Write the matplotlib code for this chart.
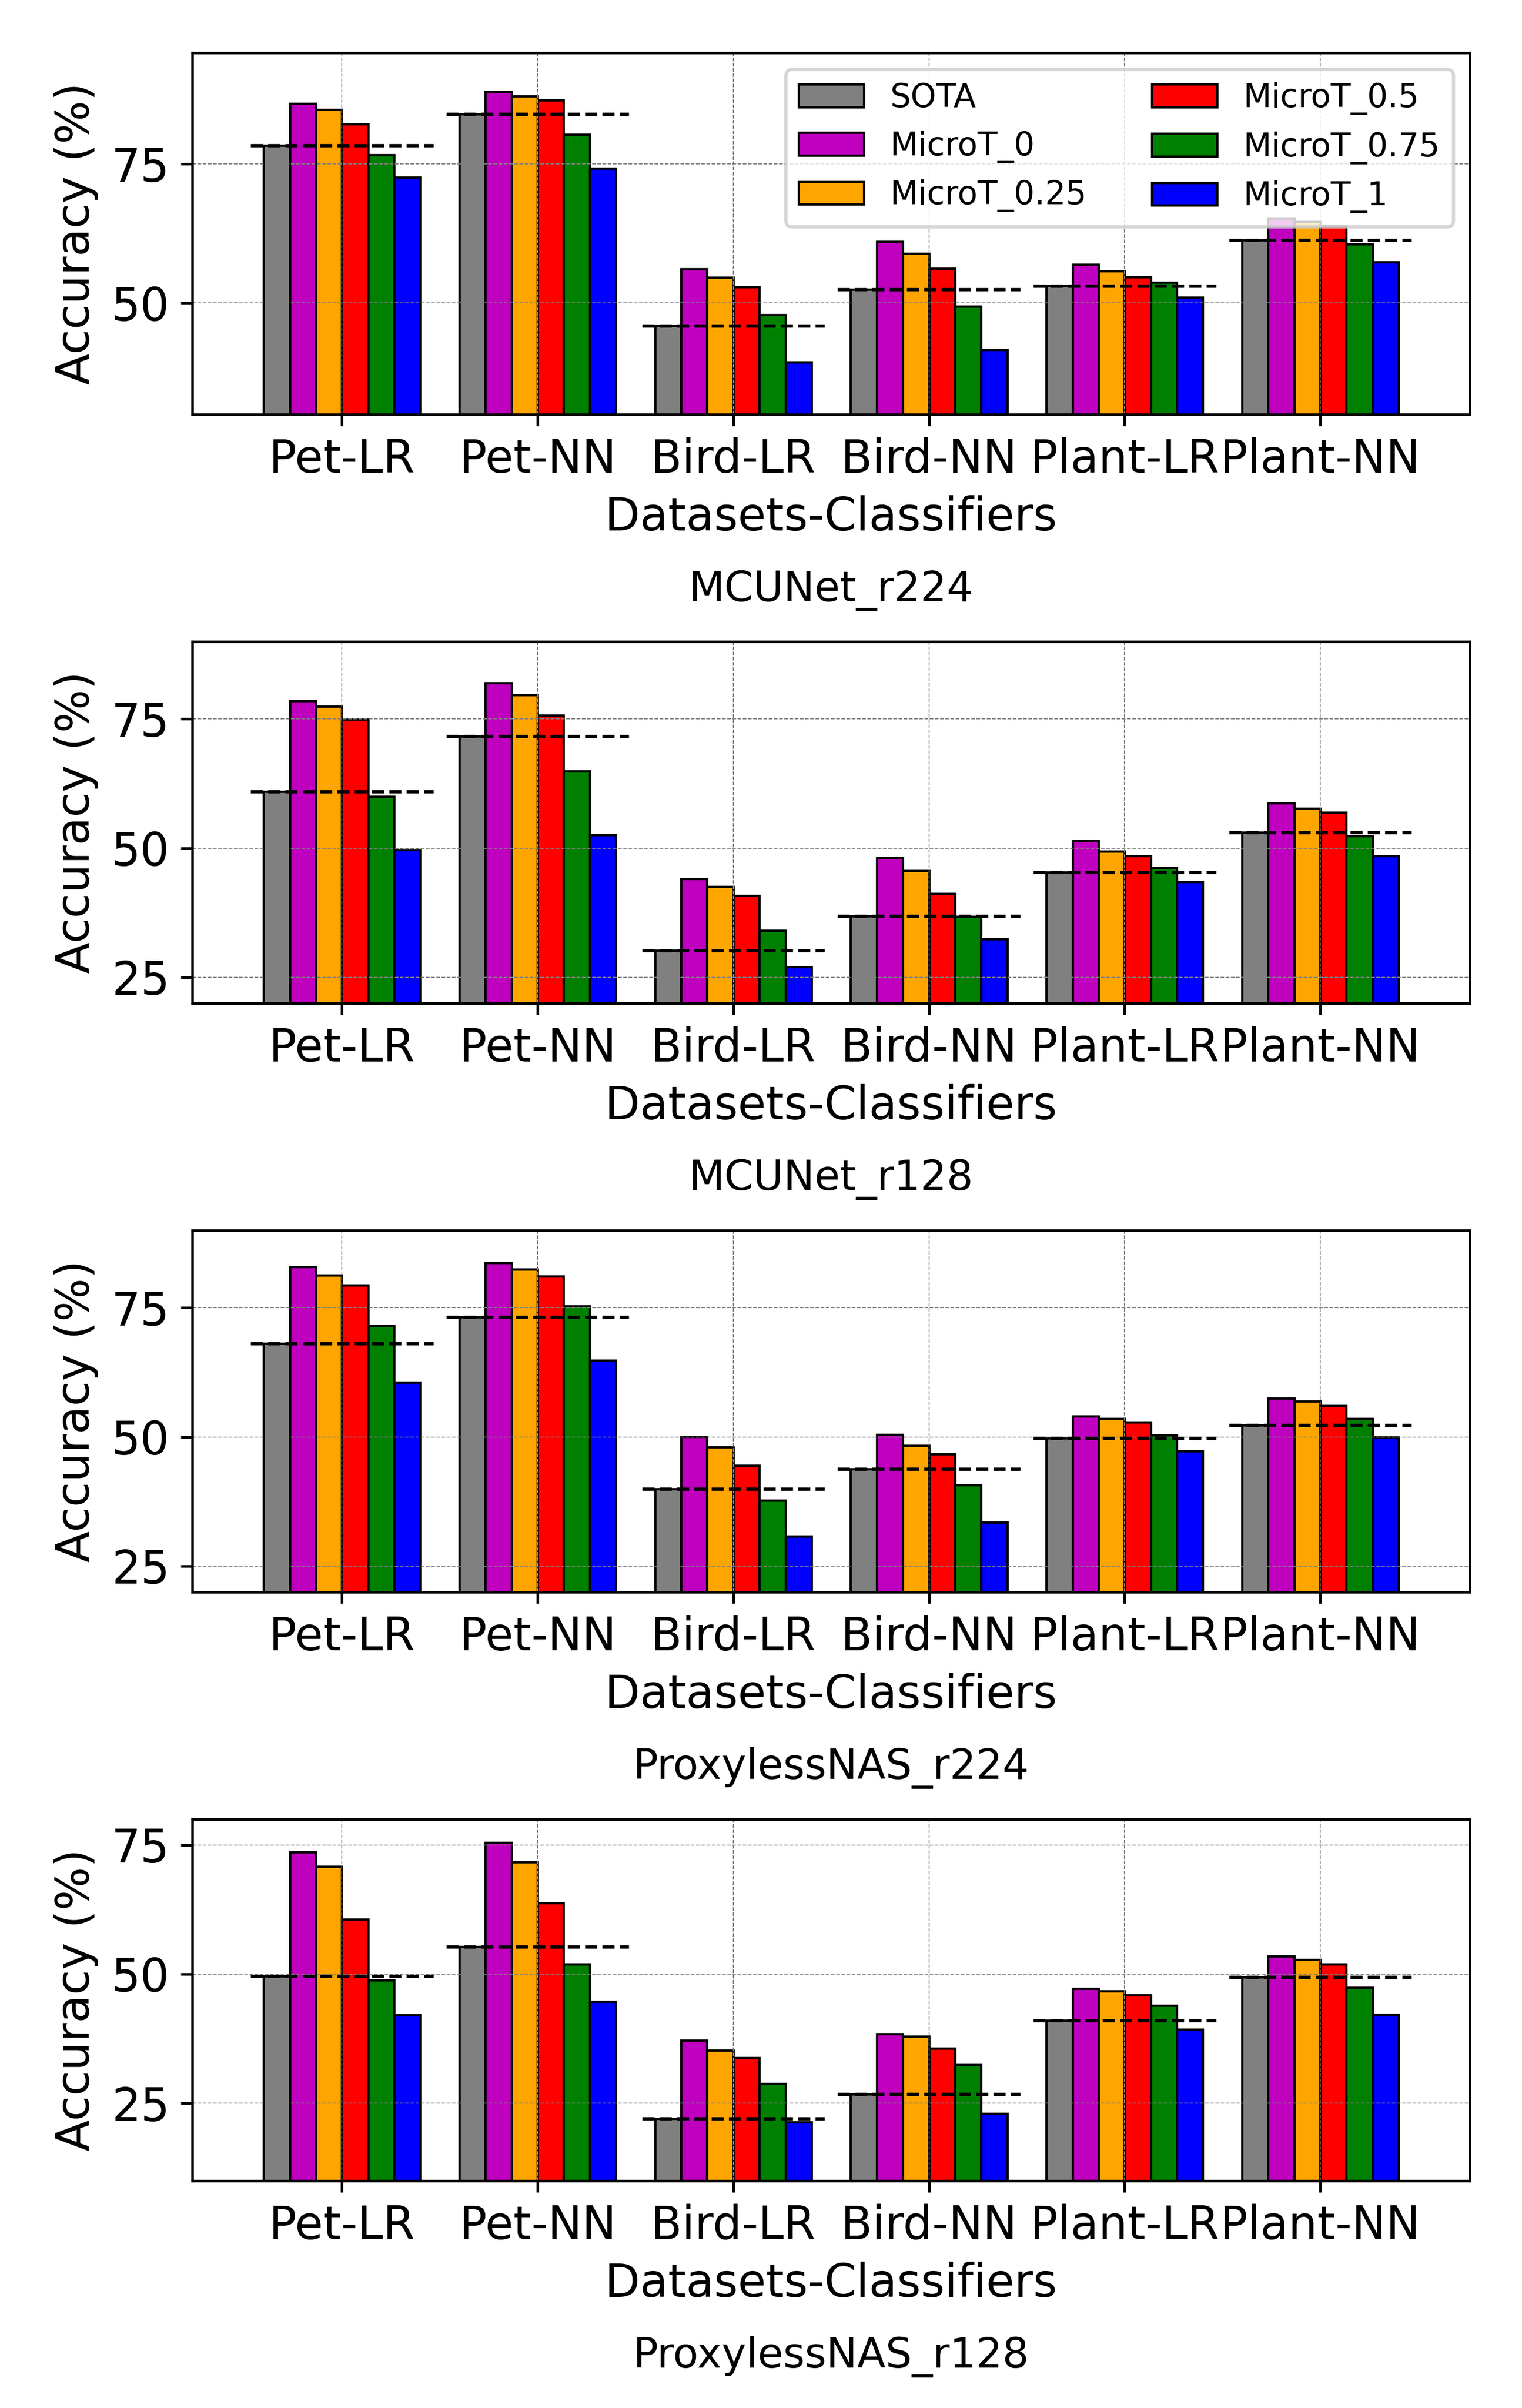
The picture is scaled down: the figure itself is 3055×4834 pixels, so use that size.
import matplotlib
matplotlib.use("Agg")
import matplotlib.pyplot as plt
import numpy as np

# --------------------------------------
# Data (accuracy %)
# --------------------------------------
groups = ["Pet-LR", "Pet-NN", "Bird-LR", "Bird-NN", "Plant-LR", "Plant-NN"]
methods = ["SOTA", "MicroT_0", "MicroT_0.25", "MicroT_0.5", "MicroT_0.75", "MicroT_1"]
colors = ["gray", "m", "orange", "r", "g", "b"]
titles = ["MCUNet_r224", "MCUNet_r128", "ProxylessNAS_r224", "ProxylessNAS_r128"]

mcunet_r224 = [
    [78.3, 84.0, 45.9, 52.5, 53.1, 61.3],   # SOTA
    [85.9, 88.0, 56.1, 61.1, 56.9, 65.3],   # MicroT_0
    [84.8, 87.2, 54.6, 58.9, 55.8, 64.6],   # MicroT_0.25
    [82.2, 86.5, 52.9, 56.2, 54.7, 63.9],   # MicroT_0.5
    [76.6, 80.3, 47.9, 49.4, 53.7, 60.6],   # MicroT_0.75
    [72.6, 74.2, 39.4, 41.6, 51.0, 57.4],   # MicroT_1
]
mcunet_r128 = [
    [61.0, 71.7, 30.2, 36.9, 45.3, 53.1],
    [78.5, 82.0, 44.1, 48.1, 51.4, 58.7],
    [77.4, 79.7, 42.5, 45.6, 49.4, 57.7],
    [74.9, 75.7, 40.8, 41.2, 48.5, 56.9],
    [60.0, 64.9, 34.1, 36.8, 46.2, 52.4],
    [49.7, 52.6, 27.0, 32.4, 43.5, 48.5],
]
proxyless_r224 = [
    [68.1, 73.2, 39.9, 43.8, 49.8, 52.3],
    [82.9, 83.7, 50.1, 50.4, 54.0, 57.5],
    [81.3, 82.5, 48.0, 48.3, 53.5, 56.9],
    [79.4, 81.1, 44.5, 46.7, 52.9, 56.0],
    [71.6, 75.3, 37.7, 40.7, 50.3, 53.5],
    [60.6, 64.8, 30.8, 33.5, 47.3, 50.0],
]
proxyless_r128 = [
    [49.6, 55.3, 22.0, 26.7, 41.0, 49.4],
    [73.6, 75.4, 37.2, 38.4, 47.2, 53.5],
    [70.8, 71.7, 35.2, 37.9, 46.7, 52.8],
    [60.6, 63.8, 33.8, 35.6, 45.9, 51.9],
    [48.8, 51.9, 28.8, 32.4, 43.9, 47.4],
    [42.1, 44.7, 21.3, 23.0, 39.3, 42.2],
]
ylims = [(30, 95), (20, 90), (20, 90), (10, 80)]

all_data = [mcunet_r224, mcunet_r128, proxyless_r224, proxyless_r128]

# --------------------------------------
# Plot
# --------------------------------------
DPI = 472
fig, axes = plt.subplots(4, 1, figsize=(3055 / DPI, 4834 / DPI), dpi=DPI)
fig.subplots_adjust(left=0.1265, right=0.9656, top=0.9781, bottom=0.0944, hspace=0.628)

x = np.arange(len(groups))
width = 0.8 / len(methods)

for k, ax in enumerate(axes):
    data = all_data[k]
    for j, (name, vals) in enumerate(zip(methods, data)):
        ax.bar(x + (j - 2.5) * width, vals, width, color=colors[j],
               edgecolor="black", linewidth=0.7, label=name)

    # SOTA reference line across each group
    for i, v in enumerate(data[0]):
        ax.plot([x[i] - 3.5 * width, x[i] + 3.5 * width], [v, v],
                color="black", linestyle="--", linewidth=1)

    ax.set_xticks(x)
    ax.set_xticklabels(groups, fontsize=14)
    ax.tick_params(axis="y", labelsize=14)
    ax.set_yticks([25, 50, 75])
    ax.set_ylim(*ylims[k])
    ax.set_xlabel("Datasets-Classifiers", fontsize=14)
    ax.set_ylabel("Accuracy (%)", fontsize=14)
    ax.grid(True, linestyle="--", linewidth=0.3, color="gray")
    ax.set_title(titles[k], y=-0.5165, pad=0, fontsize=12.7)

    if k == 0:
        ax.legend(loc="upper right", ncol=2, fontsize=10)

plt.savefig("out.png", dpi=DPI)
plt.close()
